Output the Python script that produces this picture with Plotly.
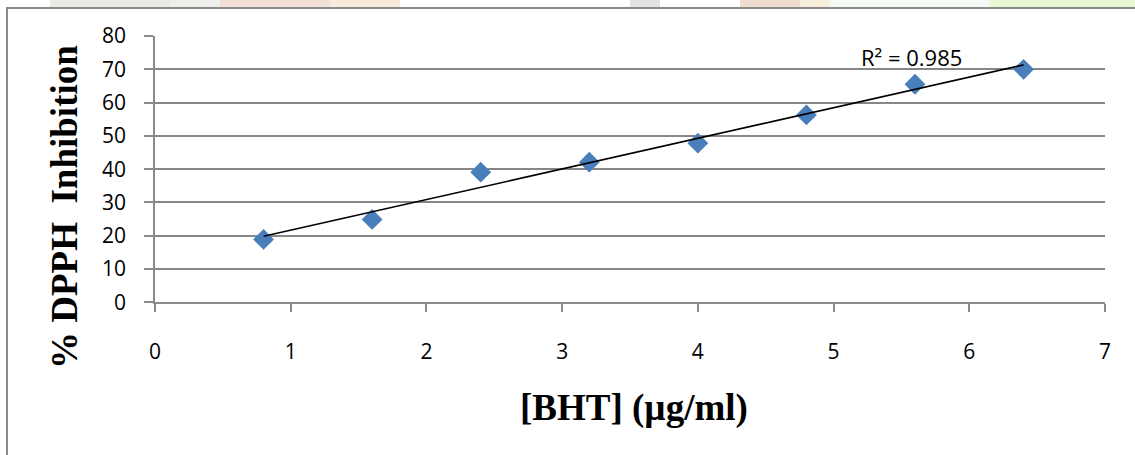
import numpy as np
import plotly.graph_objects as go

# Data
bht_conc = [0.8, 1.6, 2.4, 3.2, 4.0, 4.8, 5.6, 6.4]
dpph_inhibition = [18.9, 24.9, 39.1, 42.1, 47.8, 56.3, 65.5, 70.0]
x_ticks = [0, 1, 2, 3, 4, 5, 6, 7]
y_ticks = [0, 10, 20, 30, 40, 50, 60, 70, 80]
r2_label = "R² = 0.985"

W, H = 1135, 455

def px_x(p):
    return p / W

def px_y(p):
    return 1 - p / H

# Linear trendline computed from data
slope, intercept = np.polyfit(bht_conc, dpph_inhibition, 1)
trend_x = [bht_conc[0], bht_conc[-1]]
trend_y = [slope * v + intercept for v in trend_x]

fig = go.Figure()
fig.add_trace(go.Scatter(
    x=bht_conc, y=dpph_inhibition, mode="markers",
    marker=dict(symbol="diamond", size=16, color="#4A7EBB", line=dict(width=0)),
    showlegend=False, cliponaxis=False,
))
fig.add_trace(go.Scatter(
    x=trend_x, y=trend_y, mode="lines",
    line=dict(color="black", width=1.6), showlegend=False,
))
# outer frame (left and top edges) on a full-canvas helper axis
fig.add_trace(go.Scatter(
    x=[7, 7, 1135], y=[455, 8, 8], mode="lines",
    line=dict(color="#8a8a8a", width=2), xaxis="x2", yaxis="y2",
    showlegend=False, hoverinfo="skip", cliponaxis=False,
))

tick_font = dict(family="Open Sans, Liberation Sans, sans-serif", size=21, color="black")
fig.update_layout(
    xaxis=dict(
        domain=[px_x(155), px_x(1105)],
        range=[0, 7], tickvals=x_ticks, showgrid=False, zeroline=False,
        showline=True, linecolor="#8a8a8a", linewidth=1.5,
        ticks="outside", ticklen=8, tickcolor="#8a8a8a", tickwidth=1.5,
        tickfont=tick_font, ticklabelstandoff=22, automargin=False,
    ),
    yaxis=dict(
        domain=[px_y(302.3), px_y(36)],
        range=[0, 80], tickvals=y_ticks, showgrid=True, gridcolor="#878787", gridwidth=1.5,
        zeroline=False, showline=True, linecolor="#8a8a8a", linewidth=1.5,
        ticks="outside", ticklen=9, tickcolor="#8a8a8a", tickwidth=1.5,
        tickfont=tick_font, ticklabelstandoff=14, automargin=False,
    ),
    xaxis2=dict(domain=[0, 1], range=[0, W], visible=False, anchor="y2",
                fixedrange=True),
    yaxis2=dict(domain=[0, 1], range=[H, 0], visible=False, anchor="x2",
                fixedrange=True),
)

title_font = dict(family="Liberation Serif, Times New Roman, serif", size=37, color="black")
fig.add_annotation(
    text="<b>% DPPH  Inhibition</b>", xref="paper", yref="paper",
    x=px_x(65), y=px_y(207), yanchor="middle", xanchor="center",
    textangle=-90, showarrow=False, font=title_font,
)
fig.add_annotation(
    text="<b>[BHT] (µg/ml)</b>", xref="paper", yref="paper",
    x=px_x(634), y=px_y(408), xanchor="center", yanchor="middle",
    showarrow=False, font=title_font,
)
fig.add_annotation(
    text=r2_label, x=5.576, y=73.8, xref="x", yref="y", showarrow=False,
    font=dict(family="Open Sans, Liberation Sans, sans-serif", size=22, color="black"),
)

# faint top strip (background photo remnants)
strip = [
    (50, 170, "#ebebe6"), (170, 220, "#f0eeea"), (220, 330, "#f2dfd8"),
    (330, 400, "#f7ebdd"), (630, 660, "#e2e2e2"), (740, 800, "#efdcd0"),
    (800, 830, "#f8eedc"), (830, 990, "#f3faf3"), (990, 1135, "#e8f7d4"),
]
shapes = []
for x0, x1, c in strip:
    shapes.append(dict(type="rect", xref="paper", yref="paper",
                       x0=px_x(x0), x1=px_x(x1), y0=px_y(7), y1=px_y(0),
                       fillcolor=c, line=dict(width=0), layer="below"))

fig.update_layout(
    width=W, height=H,
    margin=dict(l=0, r=0, t=0, b=0, pad=0),
    paper_bgcolor="white", plot_bgcolor="rgba(0,0,0,0)",
    shapes=shapes,
)

fig.write_html("out.html", config={"displayModeBar": False},
               post_script="document.body.style.margin='0px';document.body.style.overflow='hidden';")
